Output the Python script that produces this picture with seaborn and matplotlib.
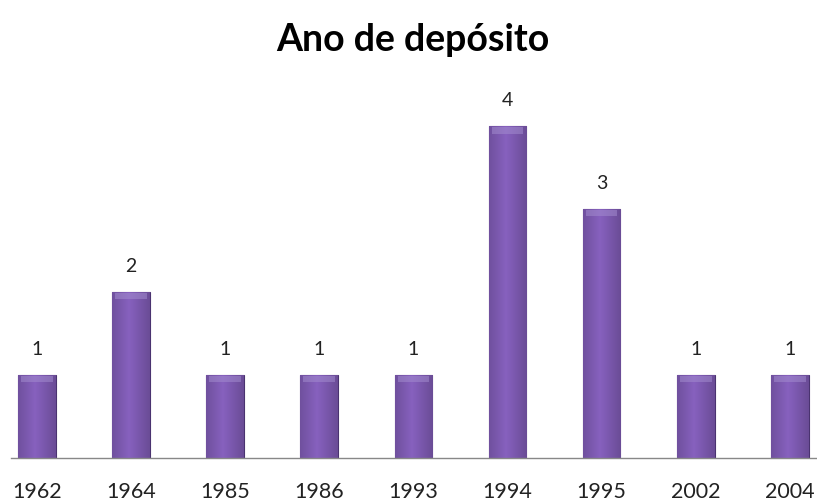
import numpy as np
import matplotlib.pyplot as plt
import seaborn as sns
import pandas as pd

# dados
anos = ['1962', '1964', '1985', '1986', '1993', '1994', '1995', '2002', '2004']
contagem = [1, 2, 1, 1, 1, 4, 3, 1, 1]

sns.set_theme(style='white')
plt.rcParams['font.family'] = ['Lato', 'DejaVu Sans']

df = pd.DataFrame({'ano': anos, 'n': contagem})

fig = plt.figure(figsize=(8.17, 5.01), dpi=100)
ax = fig.add_axes([0.0, 0.086, 1.0, 0.828])

sns.barplot(data=df, x='ano', y='n', color='#7654a6', width=0.40,
            saturation=1, edgecolor='#4a3370', linewidth=0.8, ax=ax)

# gradiente horizontal nas barras (efeito bisel)
grad = np.linspace(0, 1, 64)
prof = 1 - 0.55 * np.abs(grad - 0.45) * 2
img = np.zeros((2, 64, 4))
base = np.array([0.46, 0.33, 0.65])
for i in range(64):
    c = base * (0.75 + 0.4 * prof[i])
    img[:, i, :3] = np.clip(c, 0, 1)
    img[:, i, 3] = 1
for p in ax.patches:
    x0, y0 = p.get_x(), p.get_y()
    w, h = p.get_width(), p.get_height()
    im = ax.imshow(img, extent=[x0, x0 + w, y0, y0 + h], aspect='auto',
                   zorder=p.get_zorder() + 0.1)
    im.set_clip_path(p)
    # topo mais claro
    ax.fill_between([x0 + w * 0.08, x0 + w * 0.92], y0 + h - 0.09, y0 + h - 0.015,
                    color='#a58fd0', alpha=0.5, zorder=p.get_zorder() + 0.2, lw=0)

for i, v in enumerate(contagem):
    ax.text(i, v + 0.2, str(v), ha='center', va='bottom', fontsize=14, color='#222222')

ax.set_xlim(-0.393, 8.289)
ax.set_ylim(0, 5)
ax.set_xlabel('')
ax.set_ylabel('')
ax.set_yticks([])
ax.tick_params(axis='x', length=0, labelsize=15.5, pad=17, colors='#222222')
for s in ['top', 'right', 'left']:
    ax.spines[s].set_visible(False)
ax.spines['bottom'].set_color('#888888')
ax.spines['bottom'].set_linewidth(1)
ax.spines['bottom'].set_bounds(-0.28, 8.289)

fig.text(0.505, 0.92, 'Ano de depósito', ha='center', va='center',
         fontsize=27, fontweight='bold', color='#000000')

fig.savefig('out.png', dpi=100)
